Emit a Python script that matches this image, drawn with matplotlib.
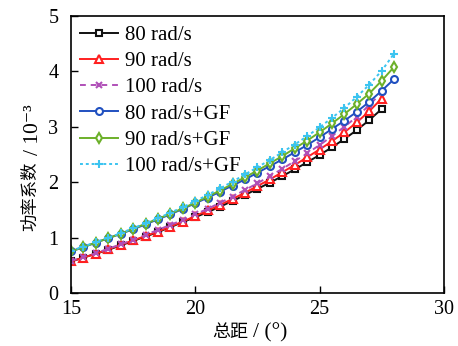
import matplotlib
matplotlib.use("Agg")
import matplotlib.pyplot as plt

plt.rcParams['font.family'] = ['Liberation Serif', 'Noto Sans CJK SC', 'DejaVu Sans']

pitch_a = [15.0, 15.5, 16.0, 16.5, 17.0, 17.5, 18.0, 18.5, 19.0, 19.5, 20.0, 20.5, 21.0,
           21.5, 22.0, 22.5, 23.0, 23.5, 24.0, 24.5, 25.0, 25.5, 26.0, 26.5, 27.0, 27.5]
pitch_b = pitch_a + [28.0]

cp_80 = [0.57, 0.64, 0.71, 0.78, 0.86, 0.94, 1.02, 1.10, 1.19, 1.28, 1.37, 1.46, 1.56,
         1.66, 1.77, 1.88, 1.99, 2.11, 2.23, 2.36, 2.49, 2.63, 2.78, 2.94, 3.12, 3.32]
cp_90 = [0.57, 0.64, 0.71, 0.79, 0.87, 0.95, 1.03, 1.11, 1.20, 1.29, 1.39, 1.49, 1.59,
         1.70, 1.81, 1.93, 2.05, 2.18, 2.31, 2.45, 2.59, 2.74, 2.90, 3.08, 3.28, 3.51]
cp_100 = [0.58, 0.65, 0.72, 0.80, 0.88, 0.96, 1.05, 1.14, 1.23, 1.32, 1.42, 1.52, 1.63,
          1.74, 1.86, 1.98, 2.11, 2.24, 2.38, 2.52, 2.67, 2.83, 3.00, 3.18, 3.39, 3.62]
cp_80_gf = [0.75, 0.83, 0.91, 0.99, 1.07, 1.15, 1.24, 1.33, 1.42, 1.52, 1.62, 1.72, 1.83,
            1.94, 2.05, 2.17, 2.29, 2.41, 2.54, 2.67, 2.81, 2.96, 3.11, 3.27, 3.45, 3.65, 3.86]
cp_90_gf = [0.75, 0.83, 0.91, 0.99, 1.07, 1.16, 1.25, 1.34, 1.43, 1.53, 1.63, 1.74, 1.85,
            1.97, 2.09, 2.21, 2.34, 2.47, 2.61, 2.75, 2.90, 3.06, 3.23, 3.41, 3.60, 3.83, 4.08]
cp_100_gf = [0.76, 0.84, 0.92, 1.00, 1.08, 1.17, 1.26, 1.35, 1.45, 1.55, 1.66, 1.77, 1.89,
             2.01, 2.14, 2.27, 2.40, 2.54, 2.68, 2.83, 2.99, 3.16, 3.34, 3.54, 3.76, 4.01, 4.32]

labels = ['80 rad/s', '90 rad/s', '100 rad/s', '80 rad/s+GF', '90 rad/s+GF', '100 rad/s+GF']
x_ticks = [15, 20, 25, 30]
y_ticks = [0, 1, 2, 3, 4, 5]

W, H = 458, 346
fig = plt.figure(figsize=(W / 100, H / 100), dpi=100)
ax = fig.add_axes([0.155, 0.153, 0.814, 0.801])

series = [
    (pitch_a, cp_80, dict(color='#111111', marker='s', ls='-', ms=4.5)),
    (pitch_a, cp_90, dict(color='#ff2020', marker='^', ls='-', ms=5.5)),
    (pitch_a, cp_100, dict(color='#b050b8', marker='x', ls=(0, (3, 2.5)), ms=5)),
    (pitch_b, cp_80_gf, dict(color='#2050c0', marker='o', ls='-', ms=5)),
    (pitch_b, cp_90_gf, dict(color='#6cb02a', marker='d', ls='-', ms=5.5)),
    (pitch_b, cp_100_gf, dict(color='#3cc4f0', marker='+', ls=(0, (1.5, 1.5)), ms=6)),
]

for (xs, ys, st), lab in zip(series, labels):
    ax.plot(xs, ys, color=st['color'], ls=st['ls'], lw=1.4, marker=st['marker'],
            ms=st['ms'], mfc='white' if st['marker'] not in ('x', '+') else st['color'],
            mec=st['color'], mew=1.5, label=lab)

ax.set_xlim(15, 30)
ax.set_ylim(0, 5)
ax.set_xticks(x_ticks)
ax.set_yticks(y_ticks)
ax.tick_params(direction='in', length=5, width=1, labelsize=14.5, top=False, right=False)
ax.tick_params(axis='y', pad=9)
ax.tick_params(axis='x', pad=5)
for s in ax.spines.values():
    s.set_linewidth(1.2)

# axis labels: CJK part and Latin part at their own sizes
fig.text(212 / W, 1 - 337 / H, '总距', fontsize=13, ha='left', va='baseline')
fig.text(253 / W, 1 - 337 / H, '/ (°)', fontsize=15.5, ha='left', va='baseline')
fig.text(31 / W, 1 - 231 / H, '功率系数', fontsize=12.5, rotation=90, ha='center', va='bottom')
fig.text(34 / W, 1 - 155 / H, '/ 10⁻³', fontsize=15.5, rotation=90, ha='center', va='bottom')

leg = ax.legend(loc='upper left', frameon=False, fontsize=15, handlelength=1.8,
                handletextpad=0.35, labelspacing=0.32, borderaxespad=0.05,
                bbox_to_anchor=(0.0, 1.0))

fig.savefig('out.png', dpi=100)
